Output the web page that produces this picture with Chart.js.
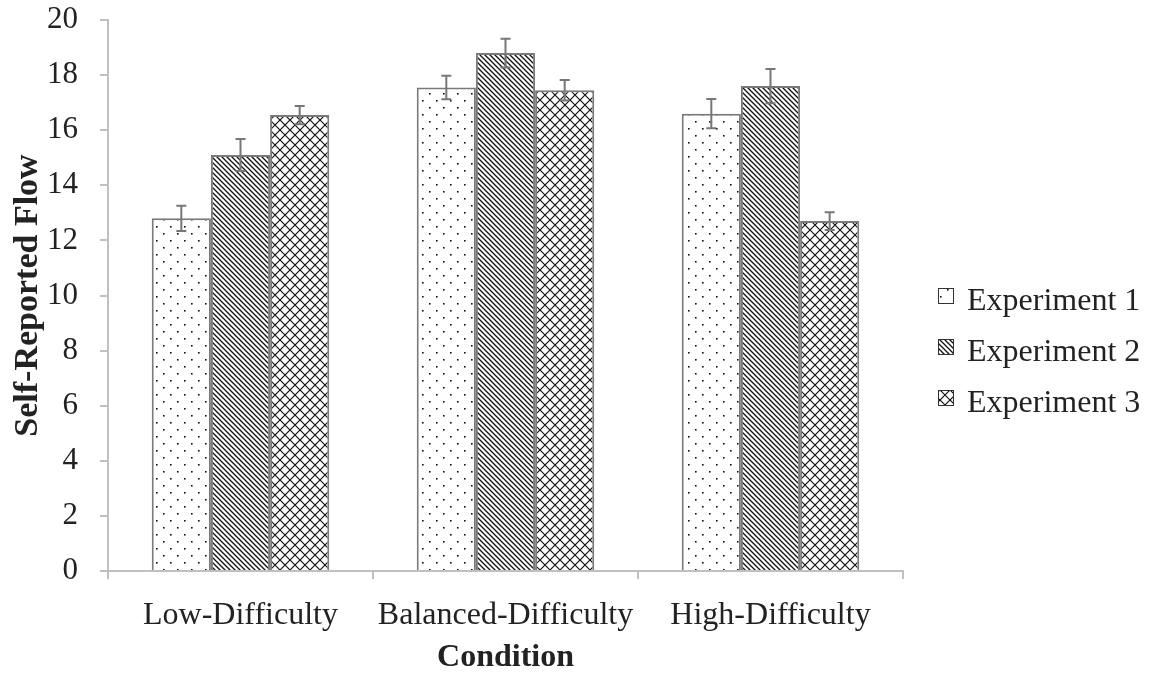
<!DOCTYPE html>
<html>
<head>
<meta charset="utf-8">
<script src="https://cdn.jsdelivr.net/npm/chart.js@4.4.1/dist/chart.umd.min.js"></script>
<style>
    html, body { margin: 0; padding: 0; background: #fff; }
    #wrap { width: 1150px; height: 677px; }
</style>
</head>
<body>
<div id="wrap"><canvas id="flowChart"></canvas></div>
<script>
const conditions = ["Low-Difficulty", "Balanced-Difficulty", "High-Difficulty"];
const seriesNames = ["Experiment 1", "Experiment 2", "Experiment 3"];
const exp1Values = [12.8, 17.55, 16.6];
const exp2Values = [15.1, 18.8, 17.6];
const exp3Values = [16.55, 17.45, 12.7];
const exp1Errors = [0.46, 0.43, 0.53];
const exp2Errors = [0.58, 0.52, 0.62];
const exp3Errors = [0.33, 0.37, 0.32];

const serif = "'Liberation Serif', 'DejaVu Serif', serif";

function makePattern(kind) {
    const c = document.createElement("canvas");
    const size = kind === "dots" ? 14 : (kind === "diag" ? 5 : 10);
    c.width = size;
    c.height = size;
    const g = c.getContext("2d");
    g.fillStyle = "#fff";
    g.fillRect(0, 0, size, size);
    g.fillStyle = "#111";
    g.strokeStyle = "#111";
    if (kind === "dots") {
        g.fillRect(2, 2, 1.6, 1.6);
        g.fillRect(9, 9, 1.6, 1.6);
    } else if (kind === "diag") {
        g.lineWidth = 1.3;
        g.beginPath();
        g.moveTo(-1, -1); g.lineTo(size + 1, size + 1);
        g.moveTo(-1, size - 1); g.lineTo(1, size + 1);
        g.moveTo(size - 1, -1); g.lineTo(size + 1, 1);
        g.stroke();
    } else {
        g.lineWidth = 1.2;
        g.beginPath();
        g.moveTo(0, 0); g.lineTo(size, size);
        g.moveTo(size, 0); g.lineTo(0, size);
        g.stroke();
    }
    const ctx = document.getElementById("flowChart").getContext("2d");
    return ctx.createPattern(c, "repeat");
}

const errorBars = {
    id: "errorBars",
    afterDatasetsDraw(chart) {
        const ctx = chart.ctx;
        const y = chart.scales.y;
        chart.data.datasets.forEach((ds, i) => {
            const meta = chart.getDatasetMeta(i);
            meta.data.forEach((bar, j) => {
                const top = y.getPixelForValue(ds.data[j] + ds.errors[j]);
                const bot = y.getPixelForValue(ds.data[j] - ds.errors[j]);
                ctx.save();
                ctx.strokeStyle = "#777";
                ctx.lineWidth = 2;
                ctx.beginPath();
                ctx.moveTo(bar.x, top); ctx.lineTo(bar.x, bot);
                ctx.moveTo(bar.x - 5, top); ctx.lineTo(bar.x + 5, top);
                ctx.moveTo(bar.x - 5, bot); ctx.lineTo(bar.x + 5, bot);
                ctx.stroke();
                ctx.restore();
            });
        });
    }
};

// legend drawn by hand so it sits where the original one does
const sideLegend = {
    id: "sideLegend",
    afterDraw(chart) {
        const ctx = chart.ctx;
        const x0 = chart.chartArea.right + 35;
        const rows = [298, 349, 400];
        chart.data.datasets.forEach((ds, i) => {
            ctx.save();
            ctx.fillStyle = ds.backgroundColor;
            ctx.fillRect(x0, rows[i] - 10, 16, 16);
            ctx.strokeStyle = "#333";
            ctx.lineWidth = 1;
            ctx.strokeRect(x0 + 0.5, rows[i] - 9.5, 15, 15);
            ctx.fillStyle = "#222";
            ctx.font = "32px " + serif;
            ctx.textBaseline = "middle";
            ctx.fillText(ds.label, x0 + 29, rows[i] + 4);
            ctx.restore();
        });
    }
};

const datasets = [
    { label: seriesNames[0], data: exp1Values, errors: exp1Errors, backgroundColor: makePattern("dots") },
    { label: seriesNames[1], data: exp2Values, errors: exp2Errors, backgroundColor: makePattern("diag") },
    { label: seriesNames[2], data: exp3Values, errors: exp3Errors, backgroundColor: makePattern("cross") }
].map(ds => Object.assign(ds, {
    borderColor: "#7a7a7a",
    borderWidth: 2,
    categoryPercentage: 0.67,
    barPercentage: 1.0
}));

new Chart(document.getElementById("flowChart"), {
    type: "bar",
    data: { labels: conditions, datasets: datasets },
    plugins: [errorBars, sideLegend],
    options: {
        responsive: true,
        maintainAspectRatio: false,
        animation: false,
        layout: { padding: { top: 20, right: 247, left: 0, bottom: 0 } },
        plugins: {
            legend: { display: false },
            tooltip: { enabled: false }
        },
        scales: {
            x: {
                grid: { drawOnChartArea: false, color: "#c0c0c0", lineWidth: 2, tickLength: 8, offset: true },
                border: { color: "#c0c0c0", width: 2 },
                ticks: { color: "#222", font: { family: serif, size: 32 }, padding: 17, maxRotation: 0, minRotation: 0, autoSkip: false },
                title: { display: true, text: "Condition", color: "#222", font: { family: serif, size: 32, weight: "bold" }, padding: { top: 0, bottom: 0 } },
                afterFit(scale) { scale.height = 106; }
            },
            y: {
                min: 0,
                max: 20,
                grid: { drawOnChartArea: false, color: "#c0c0c0", lineWidth: 2, tickLength: 8 },
                border: { color: "#c0c0c0", width: 2 },
                ticks: { stepSize: 2, color: "#222", font: { family: serif, size: 31 }, padding: 22 },
                title: { display: true, text: "Self-Reported Flow", color: "#222", font: { family: serif, size: 34, weight: "bold" }, padding: { top: 8, bottom: 0 } },
                afterFit(scale) {
                    scale.width = 108;
                    scale.paddingTop = 0;
                    scale.paddingBottom = 0;
                }
            }
        }
    }
});
</script>
</body>
</html>
